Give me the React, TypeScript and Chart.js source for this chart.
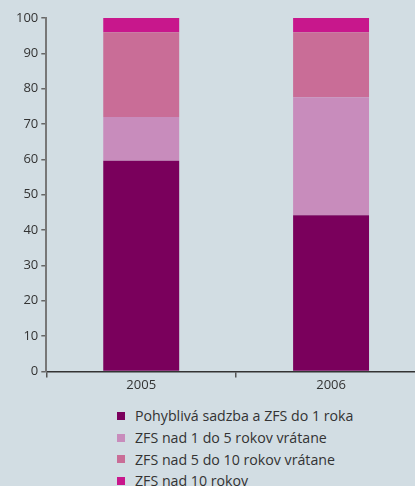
import React, { useEffect, useRef } from "react";
import { Chart, registerables } from "chart.js";

Chart.register(...registerables);

const categories = ["2005", "2006"];
const seriesNames = [
  "Pohyblivá sadzba a ZFS do 1 roka",
  "ZFS nad 1 do 5 rokov vrátane",
  "ZFS nad 5 do 10 rokov vrátane",
  "ZFS nad 10 rokov",
];
const floating = [59.6, 44.2];
const oneToFive = [12.4, 33.4];
const fiveToTen = [24.0, 18.4];
const overTen = [4.0, 4.0];
const colors = ["#7a005c", "#c88cbc", "#c96d97", "#c8178c"];
const yTicks = [0, 10, 20, 30, 40, 50, 60, 70, 80, 90, 100];

const BG = "#d2dde3";
const FONT = "'Open Sans', 'Liberation Sans', Arial, sans-serif";

export default function App() {
  const ref = useRef<HTMLCanvasElement | null>(null);

  useEffect(() => {
    const values = [floating, oneToFive, fiveToTen, overTen];
    const chart = new Chart(ref.current as HTMLCanvasElement, {
      type: "bar",
      data: {
        labels: categories,
        datasets: values.map((v, i) => ({
          label: seriesNames[i],
          data: v,
          backgroundColor: colors[i],
          borderWidth: 0,
          barPercentage: 0.4,
          categoryPercentage: 1,
        })),
      },
      options: {
        animation: false,
        responsive: false,
        maintainAspectRatio: false,
        layout: { padding: { left: 13, right: 0, top: 18, bottom: 0 } },
        plugins: { legend: { display: false }, tooltip: { enabled: false } },
        scales: {
          x: {
            stacked: true,
            grid: {
              display: true,
              drawOnChartArea: false,
              tickLength: 6,
              color: "#555",
              lineWidth: 1.5,
              offset: true,
            },
            border: { display: true, color: "#333", width: 1.5 },
            ticks: {
              color: "#333",
              font: { family: FONT, size: 13 },
              padding: 0,
            },
          },
          y: {
            stacked: true,
            min: 0,
            max: 100,
            afterBuildTicks: (axis: any) => {
              axis.ticks = yTicks.map((v) => ({ value: v }));
            },
            grid: {
              display: true,
              drawOnChartArea: false,
              tickLength: 5,
              color: "#666",
              lineWidth: 1.5,
            },
            border: { display: true, color: "#777", width: 2 },
            ticks: {
              color: "#333",
              font: { family: FONT, size: 13 },
              padding: 3,
            },
          },
        },
      },
    });
    return () => chart.destroy();
  }, []);

  return (
    <div
      style={{
        position: "fixed",
        left: 0,
        top: 0,
        width: 415,
        height: 486,
        overflow: "hidden",
        background: BG,
        fontFamily: FONT,
      }}
    >
      <canvas
        ref={ref}
        width={426}
        height={393}
        style={{ position: "absolute", left: 0, top: 0 }}
      />
      <div style={{ position: "absolute", left: 117, top: 405 }}>
        {seriesNames.map((name, i) => (
          <div
            key={name}
            style={{
              display: "flex",
              alignItems: "center",
              height: 21.7,
              fontSize: 14.2,
              color: "#333",
              whiteSpace: "nowrap",
            }}
          >
            <span
              style={{
                display: "inline-block",
                width: 8,
                height: 8,
                background: colors[i],
                marginRight: 10,
              }}
            />
            {name}
          </div>
        ))}
      </div>
    </div>
  );
}
